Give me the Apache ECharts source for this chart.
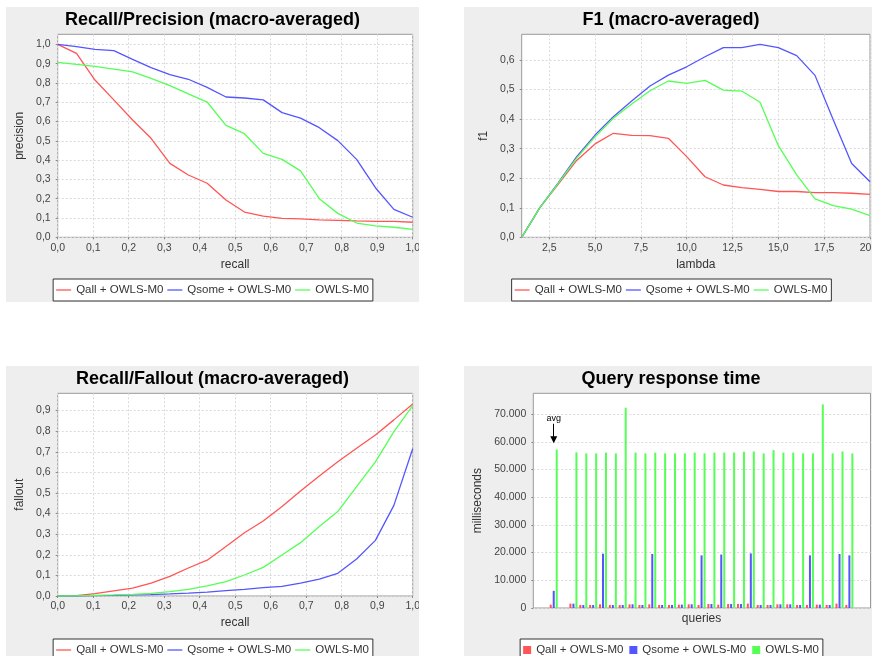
<!DOCTYPE html>
<html><head><meta charset="utf-8">
<script src="https://cdn.jsdelivr.net/npm/echarts@6/dist/echarts.min.js"></script>
<style>
html,body{margin:0;padding:0;width:872px;height:656px;overflow:hidden;background:#fff;}
.p{position:absolute;background:#eeeeee;}
#c1{left:6px;top:7px;width:413px;height:295px;}
#c2{left:464px;top:7px;width:414px;height:295px;}
#c3{left:6px;top:366px;width:413px;height:295px;}
#c4{left:464px;top:366px;width:414px;height:295px;}
</style></head><body>
<div id="c1" class="p"></div>
<div id="c2" class="p"></div>
<div id="c3" class="p"></div>
<div id="c4" class="p"></div>
<script>
// ---------- data ----------
const seriesNames = ['Qall + OWLS-M0', 'Qsome + OWLS-M0', 'OWLS-M0'];
const seriesColors = ['#ff5555', '#5555ff', '#55ff55'];

const recallPoints = [0.0, 0.053, 0.105, 0.158, 0.211, 0.263, 0.316, 0.368, 0.421, 0.474,
  0.526, 0.579, 0.632, 0.684, 0.737, 0.789, 0.842, 0.895, 0.947, 1.0];

const qallPrecision = [1.0, 0.953, 0.815, 0.712, 0.608, 0.513, 0.383, 0.323, 0.28, 0.193,
  0.131, 0.11, 0.098, 0.095, 0.09, 0.088, 0.085, 0.083, 0.083, 0.078];
const qsomePrecision = [1.0, 0.988, 0.974, 0.967, 0.922, 0.879, 0.843, 0.819, 0.777, 0.727,
  0.722, 0.712, 0.646, 0.618, 0.568, 0.501, 0.404, 0.257, 0.145, 0.104];
const owlsPrecision = [0.907, 0.896, 0.886, 0.872, 0.857, 0.824, 0.786, 0.743, 0.701, 0.58,
  0.537, 0.435, 0.404, 0.344, 0.2, 0.124, 0.074, 0.059, 0.052, 0.041];

const lambdaPoints = [1, 2, 3, 4, 5, 6, 7, 8, 9, 10, 11, 12, 13, 14, 15, 16, 17, 18, 19, 20];
const qallF1 = [0, 0.101, 0.18, 0.26, 0.316, 0.352, 0.345, 0.344, 0.335, 0.273,
  0.205, 0.177, 0.168, 0.162, 0.155, 0.155, 0.151, 0.151, 0.149, 0.145];
const qsomeF1 = [0, 0.101, 0.185, 0.273, 0.346, 0.408, 0.461, 0.512, 0.549, 0.577,
  0.611, 0.642, 0.642, 0.653, 0.642, 0.615, 0.548, 0.397, 0.25, 0.188];
const owlsF1 = [0, 0.101, 0.183, 0.268, 0.34, 0.403, 0.451, 0.496, 0.529, 0.521,
  0.531, 0.498, 0.495, 0.457, 0.31, 0.211, 0.13, 0.107, 0.095, 0.073];

const qallFallout = [0, 0.002, 0.012, 0.025, 0.038, 0.063, 0.095, 0.136, 0.174, 0.24,
  0.307, 0.364, 0.434, 0.51, 0.583, 0.652, 0.717, 0.782, 0.855, 0.932];
const qsomeFallout = [0, 0, 0.002, 0.003, 0.005, 0.007, 0.01, 0.014, 0.019, 0.026,
  0.032, 0.041, 0.047, 0.062, 0.082, 0.11, 0.18, 0.27, 0.44, 0.715];
const owlsFallout = [0, 0.001, 0.003, 0.005, 0.008, 0.013, 0.021, 0.032, 0.049, 0.07,
  0.102, 0.139, 0.199, 0.259, 0.337, 0.41, 0.531, 0.651, 0.798, 0.924];

const queryCategories = ['avg', '', '1', '2', '3', '4', '5', '6', '7', '8', '9', '10', '11', '12', '13', '14',
  '15', '16', '17', '18', '19', '20', '21', '22', '23', '24', '25', '26', '27', '28', '29'];
const qallTimes = [1200, null, 1570, 1090, 1090, 1330, 1090, 1090, 1330, 1090, 1330, 1090, 1090, 1210, 1330,
  1090, 1450, 1210, 1450, 1450, 1570, 1090, 1090, 1330, 1330, 1090, 1090, 1210, 1090, 1570, 1090];
const qsomeTimes = [6200, null, 1570, 1090, 1090, 19600, 1090, 1090, 1330, 1090, 19500, 1090, 1090, 1210, 1330,
  19000, 1450, 19300, 1450, 1450, 19700, 1090, 1090, 1330, 1330, 1090, 19000, 1210, 1090, 19500, 19000];
const owlsTimes = [57200, null, 56200, 55800, 55800, 56100, 55800, 72300, 56100, 55800, 56100, 55800, 55800, 55800,
  56100, 55800, 56100, 56100, 56100, 56400, 56500, 55800, 57000, 56100, 56100, 55800, 55800, 73500, 55800, 56500, 55800];
const avgArrowFrom = 66500;
const avgArrowTo = 60700;

const ticksUnit = [0, 0.1, 0.2, 0.3, 0.4, 0.5, 0.6, 0.7, 0.8, 0.9, 1.0];
const ticksF1 = [0, 0.1, 0.2, 0.3, 0.4, 0.5, 0.6];
const ticksLambda = [2.5, 5, 7.5, 10, 12.5, 15, 17.5, 20];
const ticksFallout = [0, 0.1, 0.2, 0.3, 0.4, 0.5, 0.6, 0.7, 0.8, 0.9];
const ticksMillis = [0, 10000, 20000, 30000, 40000, 50000, 60000, 70000];

// ---------- helpers ----------
const FONT = "'Liberation Sans', Arial, sans-serif";
function fmt1(v) { return v.toFixed(1).replace('.', ','); }
function fmtK(v) { return String(Math.round(v)).replace(/\B(?=(\d{3})+(?!\d))/g, '.'); }

function valueAxis(o) {
  return {
    type: 'value', min: o.min, max: o.max, gridIndex: o.gridIndex || 0,
    show: o.show !== false,
    name: o.name, nameLocation: 'middle', nameGap: o.nameGap,
    nameTextStyle: { fontSize: 12, color: '#333', fontFamily: FONT },
    axisLine: { show: false },
    axisTick: { show: true, length: 2, lineStyle: { color: '#888' }, customValues: o.ticks },
    axisLabel: { show: true, customValues: o.ticks, formatter: o.fmt, fontSize: 10.5, color: '#444',
      margin: o.margin, fontFamily: FONT, hideOverlap: false },
    splitLine: { show: o.split !== false, lineStyle: { color: '#dadada', type: [2, 2], width: 1 } }
  };
}
function gridBox(left, top, width, height) {
  return { left, top, width, height, show: true, backgroundColor: '#fff', borderColor: '#999', borderWidth: 1,
    containLabel: false, outerBoundsMode: 'none' };
}
function titleOf(text) {
  return { text, left: 'center', top: 4, padding: 0,
    textStyle: { fontSize: 18, fontWeight: 'bold', color: '#000', fontFamily: FONT } };
}
function legendOf(top, isRect) {
  return {
    top, left: 'center', data: seriesNames, icon: 'rect',
    itemWidth: isRect ? 8 : 15, itemHeight: isRect ? 8 : 1.3, itemGap: isRect ? 6 : 4,
    padding: [5, 4, 5, 3], borderColor: '#333', borderWidth: 1, borderRadius: 0, backgroundColor: '#fff',
    textStyle: { fontSize: 11.5, color: '#333', fontFamily: FONT }
  };
}
function lineSeries(xs, ysList) {
  return ysList.map((ys, i) => ({
    type: 'line', name: seriesNames[i], data: xs.map((x, j) => [x, ys[j]]),
    symbol: 'none', showSymbol: false, animation: false, smooth: false,
    lineStyle: { width: 1.3, color: seriesColors[i] }, itemStyle: { color: seriesColors[i] }
  }));
}

// ---------- chart 1 ----------
const c1 = echarts.init(document.getElementById('c1'));
c1.setOption({
  backgroundColor: '#eeeeee', animation: false,
  title: titleOf('Recall/Precision (macro-averaged)'),
  legend: legendOf(272, false),
  grid: gridBox(51.7, 27.3, 355, 203),
  xAxis: valueAxis({ min: 0, max: 1, ticks: ticksUnit, fmt: fmt1, name: 'recall', nameGap: 21, margin: 5 }),
  yAxis: valueAxis({ min: 0, max: 1.052, ticks: ticksUnit, fmt: fmt1, name: 'precision', nameGap: 27, margin: 7 }),
  series: lineSeries(recallPoints, [qallPrecision, qsomePrecision, owlsPrecision])
});

// ---------- chart 2 ----------
const c2 = echarts.init(document.getElementById('c2'));
c2.setOption({
  backgroundColor: '#eeeeee', animation: false,
  title: titleOf('F1 (macro-averaged)'),
  legend: legendOf(272, false),
  grid: gridBox(57.7, 27.3, 348.3, 203),
  xAxis: valueAxis({ min: 1, max: 20, ticks: ticksLambda, fmt: fmt1, name: 'lambda', nameGap: 21, margin: 5 }),
  yAxis: valueAxis({ min: 0, max: 0.687, ticks: ticksF1, fmt: fmt1, name: 'f1', nameGap: 27, margin: 7 }),
  series: lineSeries(lambdaPoints, [qallF1, qsomeF1, owlsF1])
});

// ---------- chart 3 ----------
const c3 = echarts.init(document.getElementById('c3'));
c3.setOption({
  backgroundColor: '#eeeeee', animation: false,
  title: titleOf('Recall/Fallout (macro-averaged)'),
  legend: legendOf(273, false),
  grid: gridBox(51.7, 27.3, 355, 202.7),
  xAxis: valueAxis({ min: 0, max: 1, ticks: ticksUnit, fmt: fmt1, name: 'recall', nameGap: 21, margin: 5 }),
  yAxis: valueAxis({ min: 0, max: 0.984, ticks: ticksFallout, fmt: fmt1, name: 'fallout', nameGap: 27, margin: 7 }),
  series: lineSeries(recallPoints, [qallFallout, qsomeFallout, owlsFallout])
});

// ---------- chart 4 ----------
const MILLIS_MAX = 77500;
const c4 = echarts.init(document.getElementById('c4'));
const barLists = [qallTimes, qsomeTimes, owlsTimes];
c4.setOption({
  backgroundColor: '#eeeeee', animation: false,
  title: titleOf('Query response time'),
  legend: legendOf(273, true),
  grid: [
    gridBox(69.3, 27.3, 337.2, 214.7),
    { left: 84.8, top: 27.3, width: 305.5, height: 214.7, show: false, containLabel: false, outerBoundsMode: 'none' }
  ],
  xAxis: [
    { type: 'value', gridIndex: 0, show: false, min: 0, max: 1 },
    { type: 'category', gridIndex: 1, data: queryCategories, boundaryGap: true,
      name: 'queries', nameLocation: 'middle', nameGap: 5,
      nameTextStyle: { fontSize: 12, color: '#333', fontFamily: FONT },
      axisLine: { show: false }, axisTick: { show: false }, axisLabel: { show: false }, splitLine: { show: false } }
  ],
  yAxis: [
    valueAxis({ gridIndex: 0, min: 0, max: MILLIS_MAX, ticks: ticksMillis, fmt: fmtK, name: 'milliseconds', nameGap: 44, margin: 7 }),
    { type: 'value', gridIndex: 1, min: 0, max: MILLIS_MAX, show: false, splitLine: { show: false } }
  ],
  series: barLists.map((d, i) => {
    const s = {
      type: 'bar', name: seriesNames[i], xAxisIndex: 1, yAxisIndex: 1, data: d,
      barWidth: 2, barGap: '50%', animation: false,
      itemStyle: { color: seriesColors[i] }
    };
    if (i === 1) {
      s.markLine = {
        silent: true, animation: false,
        symbol: ['none', 'triangle'], symbolSize: 7,
        itemStyle: { color: '#000' },
        lineStyle: { color: '#000', width: 1, type: 'solid' },
        label: { show: true, position: 'start', formatter: 'avg', fontSize: 9, color: '#000', distance: 1, fontFamily: FONT },
        data: [[
          { coord: ['avg', avgArrowFrom], symbol: 'none' },
          { coord: ['avg', avgArrowTo], symbol: 'triangle', symbolSize: 7 }
        ]]
      };
    }
    return s;
  })
});
</script>
</body></html>
